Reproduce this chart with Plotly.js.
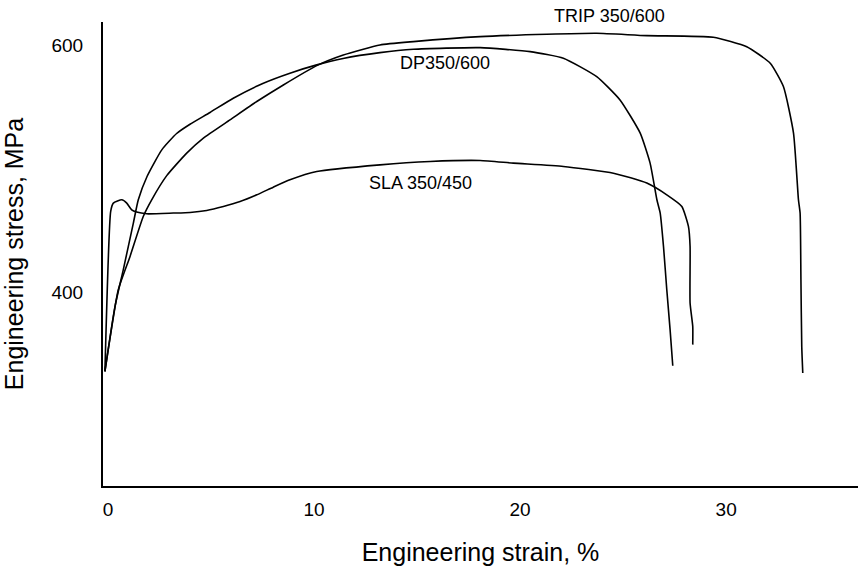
<!DOCTYPE html>
<html>
<head>
<meta charset="utf-8">
<script src="https://cdn.plot.ly/plotly-3.0.1.min.js"></script>
<style>html,body{margin:0;padding:0;background:#fff;}#chart{width:860px;height:570px;}</style>
</head>
<body>
<div id="chart"></div>
<script>
// Engineering strain (%) and stress (MPa)
const tripStrain = [-0.15,0.50,1.07,1.71,2.12,2.85,3.82,4.63,5.92,7.22,8.51,10.13,11.42,13.2,14.82,18.06,21.30,23.72,26.15,29.38,31.0,32.14,32.78,33.27,33.51,33.59,33.63,33.67,33.72];
const tripStress = [336.5,402.4,429.3,461.5,475.0,494.5,512.7,524.8,539.5,554.3,567.7,583.3,591.9,600,602.7,606.7,608.6,609.4,607.5,606.2,598.6,585.2,566.4,528.8,475,464.3,410.5,356.7,335.2];

const dpStrain = [-0.15,0.34,0.74,1.23,1.47,1.90,2.61,3.33,3.98,4.95,6.08,7.54,8.83,10.13,11.41,13.2,14.82,18.06,20.49,22.10,23.72,24.85,25.83,26.31,26.64,26.80,26.96,27.12,27.28,27.41];
const dpStress = [336.5,389.0,418.5,456.2,475.0,494.0,515.3,528.5,536.0,545.5,557.0,569.1,577.2,583.9,589.1,593.8,596.5,597.8,594.6,589.3,574.4,555.6,528.8,504.6,475.0,464.3,437.3,402.4,370.2,341.1];

const slaStrain = [-0.15,0.13,0.26,0.67,0.91,1.15,1.39,1.88,3.17,3.98,4.79,5.60,6.41,7.22,8.02,8.83,10.13,13.2,15.63,18.06,19.67,22.10,24.53,26.15,27.12,27.85,28.17,28.25,28.25,28.38,28.38];
const slaStress = [336.5,465.6,472.3,475.0,472.3,466.9,465.1,463.7,464.3,464.8,466.4,469.6,473.6,479.0,485.2,491.1,497.8,503.2,505.9,506.7,504.6,501.9,496.5,488.5,479.0,469.6,453.5,437.3,391.7,372.8,358.1];

const seriesNames = ["TRIP 350/600", "DP350/600", "SLA 350/450"];
const labelStrain = [24.32, 16.36, 15.19];
const labelStress = [623.4, 585.5, 488.7];

const xTicks = [0, 10, 20, 30];
const yTicks = [400, 600];
const xRange = [-0.243, 36.4];
const yRange = [244, 618.5];

const FONT = "Liberation Sans, Arial, Helvetica, sans-serif";
const lineStyle = {color: "#000", width: 1.6, shape: "spline", smoothing: 0.5};

const traces = [
  {x: tripStrain, y: tripStress, name: seriesNames[0]},
  {x: dpStrain, y: dpStress, name: seriesNames[1]},
  {x: slaStrain, y: slaStress, name: seriesNames[2]}
].map(t => Object.assign(t, {type: "scatter", mode: "lines", line: lineStyle, hoverinfo: "skip", cliponaxis: false}));

// labels above the top of the y range are placed in paper units (converted from stress)
const annotations = seriesNames.map((n, i) => {
  const inRange = labelStress[i] <= yRange[1];
  return {
    x: labelStrain[i], xref: "x",
    y: inRange ? labelStress[i] : (labelStress[i] - yRange[0]) / (yRange[1] - yRange[0]),
    yref: inRange ? "y" : "paper",
    text: n, showarrow: false, font: {family: FONT, size: 18, color: "#000"},
    xanchor: "center", yanchor: "middle"
  };
});

const layout = {
  width: 860, height: 570,
  margin: {l: 103, r: 2, t: 22, b: 84},
  paper_bgcolor: "#fff", plot_bgcolor: "#fff",
  showlegend: false,
  font: {family: FONT, color: "#000"},
  xaxis: {
    range: xRange, showgrid: false, zeroline: false,
    showline: true, linecolor: "#000", linewidth: 2,
    tickvals: xTicks, ticktext: xTicks.map(String), ticks: "",
    ticklabelstandoff: 5,
    tickfont: {family: FONT, size: 19, color: "#000"},
    title: {text: "Engineering strain, %", font: {family: FONT, size: 25, color: "#000"}, standoff: 25},
    automargin: false
  },
  yaxis: {
    range: yRange, showgrid: false, zeroline: false,
    showline: true, linecolor: "#000", linewidth: 2,
    tickvals: yTicks, ticktext: yTicks.map(String), ticks: "",
    ticklabelstandoff: 14,
    tickfont: {family: FONT, size: 19, color: "#000"},
    title: {text: "Engineering stress, MPa", font: {family: FONT, size: 25, color: "#000"}, standoff: 22},
    automargin: false
  },
  annotations: annotations
};

Plotly.newPlot("chart", traces, layout, {displayModeBar: false, staticPlot: true});
</script>
</body>
</html>
